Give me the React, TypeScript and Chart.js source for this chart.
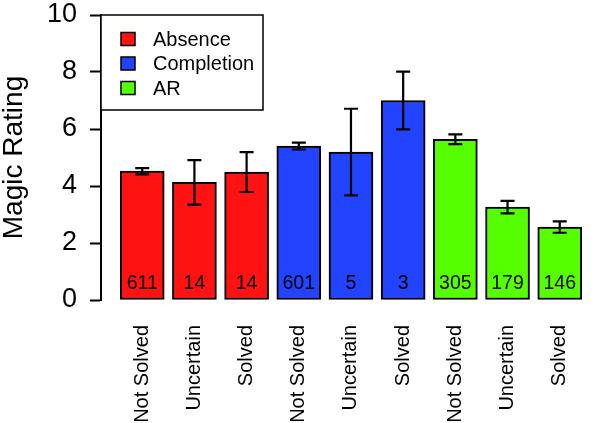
import React, { useEffect, useRef } from 'react';
import { Chart, registerables } from 'chart.js';

Chart.register(...registerables);

const categories = ['Not Solved', 'Uncertain', 'Solved', 'Not Solved', 'Uncertain', 'Solved', 'Not Solved', 'Uncertain', 'Solved'];
const groupNames = ['Absence', 'Completion', 'AR'];
const groupOf = [0, 0, 0, 1, 1, 1, 2, 2, 2];
const means = [4.52, 4.13, 4.49, 5.40, 5.19, 7.0, 5.64, 3.26, 2.56];
const errors = [0.11, 0.78, 0.70, 0.12, 1.52, 1.01, 0.17, 0.22, 0.20];
const counts = [611, 14, 14, 601, 5, 3, 305, 179, 146];
const groupColors = ['#FF1212', '#2244FF', '#55FF00'];
const yMin = 0;
const yMax = 10;
const yStep = 2;

const FONT = "'Liberation Sans', Arial, Helvetica, sans-serif";

const overlayPlugin = {
  id: 'overlay',
  afterDatasetsDraw(chart: any) {
    const ctx = chart.ctx;
    const xs = chart.scales.x;
    const ys = chart.scales.y;
    ctx.save();
    // error bars
    ctx.strokeStyle = '#000';
    ctx.lineWidth = 2.2;
    means.forEach((m, i) => {
      const x = xs.getPixelForValue(i);
      const yt = ys.getPixelForValue(m + errors[i]);
      const yb = ys.getPixelForValue(m - errors[i]);
      ctx.beginPath();
      ctx.moveTo(x, yt);
      ctx.lineTo(x, yb);
      ctx.moveTo(x - 7, yt);
      ctx.lineTo(x + 7, yt);
      ctx.moveTo(x - 7, yb);
      ctx.lineTo(x + 7, yb);
      ctx.stroke();
    });
    // counts
    ctx.fillStyle = '#000';
    ctx.font = `19.5px ${FONT}`;
    ctx.textAlign = 'center';
    ctx.textBaseline = 'middle';
    counts.forEach((c, i) => {
      const x = xs.getPixelForValue(i);
      const y = ys.getPixelForValue(0) - 16.5;
      ctx.fillText(String(c), x, y);
    });
    ctx.restore();
  },
  afterDraw(chart: any) {
    const ctx = chart.ctx;
    const area = chart.chartArea;
    ctx.save();
    const bx = area.left;
    const by = area.top;
    const bw = 162;
    const bh = 95;
    ctx.fillStyle = '#fff';
    ctx.fillRect(bx, by, bw, bh);
    ctx.strokeStyle = '#000';
    ctx.lineWidth = 1.5;
    ctx.strokeRect(bx, by, bw, bh);
    ctx.font = `20px ${FONT}`;
    ctx.textAlign = 'left';
    ctx.textBaseline = 'middle';
    groupNames.forEach((name, g) => {
      const cy = by + 24 + g * 24.5;
      ctx.fillStyle = groupColors[g];
      ctx.fillRect(bx + 20, cy - 6.5, 14, 13);
      ctx.strokeStyle = '#000';
      ctx.lineWidth = 1.5;
      ctx.strokeRect(bx + 20, cy - 6.5, 14, 13);
      ctx.fillStyle = '#000';
      ctx.fillText(name, bx + 52, cy + 1);
    });
    ctx.restore();
  },
};

export default function App() {
  const ref = useRef<HTMLCanvasElement | null>(null);

  useEffect(() => {
    if (!ref.current) return;
    const datasets = groupNames.map((name, g) => ({
      label: name,
      data: means
        .map((m, i) => ({ x: i, y: m }))
        .filter((_, i) => groupOf[i] === g),
      backgroundColor: groupColors[g],
      borderColor: '#000',
      borderWidth: 2,
      borderSkipped: false,
      barThickness: 44,
      grouped: false,
    }));

    const chart = new Chart(ref.current, {
      type: 'bar',
      data: { datasets } as any,
      plugins: [overlayPlugin],
      options: {
        animation: false,
        responsive: false,
        devicePixelRatio: 1,
        layout: { padding: { top: 15, right: 10, bottom: 0, left: 0 } },
        plugins: {
          legend: { display: false },
          tooltip: { enabled: false },
        },
        scales: {
          x: {
            type: 'linear',
            min: -0.79,
            max: 8.58,
            offset: false,
            grid: { display: false, drawTicks: false },
            border: { display: false },
            afterBuildTicks: (scale: any) => {
              scale.ticks = categories.map((_, i) => ({ value: i }));
            },
            afterFit: (scale: any) => {
              scale.height = 123;
              scale.paddingLeft = 0;
              scale.paddingRight = 0;
            },
            ticks: {
              autoSkip: false,
              maxRotation: 90,
              minRotation: 90,
              padding: 25,
              color: '#000',
              font: { family: FONT, size: 20 },
              callback: (_v: any, i: number) => categories[i],
            },
          },
          y: {
            type: 'linear',
            min: yMin,
            max: yMax,
            grid: {
              display: true,
              drawOnChartArea: false,
              drawTicks: true,
              tickLength: 11,
              tickWidth: 2,
              color: '#000',
            },
            border: { display: true, color: '#000', width: 2 },
            afterFit: (scale: any) => {
              scale.width = 101;
              scale.paddingTop = 0;
              scale.paddingBottom = 0;
            },
            ticks: {
              stepSize: yStep,
              padding: 13,
              color: '#000',
              font: { family: FONT, size: 27, lineHeight: 1 },
            },
            title: {
              display: true,
              text: 'Magic Rating',
              color: '#000',
              padding: { top: 0, bottom: 0 },
              font: { family: FONT, size: 28, lineHeight: 1 },
            },
          },
        },
      } as any,
    });
    return () => chart.destroy();
  }, []);

  return (
    <div style={{ position: 'absolute', left: 0, top: 0, width: 600, height: 423, background: '#fff' }}>
      <canvas ref={ref} width={600} height={423} />
    </div>
  );
}
